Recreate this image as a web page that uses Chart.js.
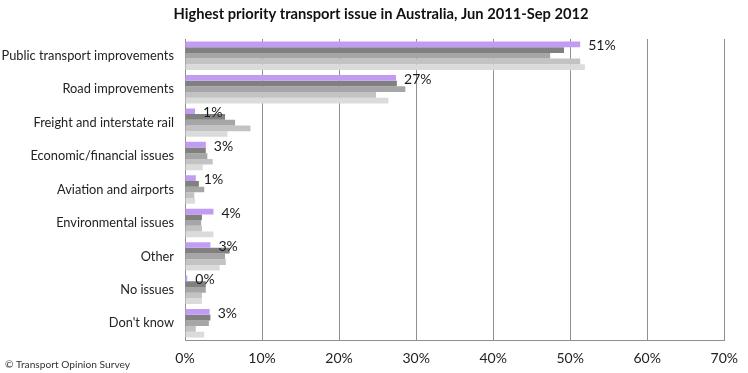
<!DOCTYPE html>
<html>
<head>
<meta charset="utf-8">
<script src="https://cdn.jsdelivr.net/npm/chart.js@4.4.1/dist/chart.umd.min.js"></script>
<style>
  html, body { margin: 0; padding: 0; background: #ffffff; }
  #wrap { width: 748px; height: 373px; position: relative; }
</style>
</head>
<body>
<div id="wrap"><canvas id="c" width="748" height="373"></canvas></div>
<script>
const titleText = 'Highest priority transport issue in Australia, Jun 2011-Sep 2012';
const footerText = '\u00A9 Transport Opinion Survey';

const categories = [
  'Public transport improvements',
  'Road improvements',
  'Freight and interstate rail',
  'Economic/financial issues',
  'Aviation and airports',
  'Environmental issues',
  'Other',
  'No issues',
  "Don't know"
];

const seriesNames = ['Latest survey', 'Earlier survey 1', 'Earlier survey 2', 'Earlier survey 3', 'Earlier survey 4'];

const latest   = [51.3, 27.4, 1.3, 2.7, 1.4, 3.7, 3.3, 0.3, 3.2];
const earlier1 = [49.2, 27.5, 5.2, 2.7, 1.8, 2.2, 5.8, 2.7, 3.3];
const earlier2 = [47.4, 28.6, 6.5, 2.9, 2.5, 2.1, 5.2, 2.7, 3.1];
const earlier3 = [51.3, 24.8, 8.5, 3.6, 1.2, 2.2, 5.3, 2.2, 1.4];
const earlier4 = [51.9, 26.4, 5.5, 2.3, 1.3, 3.7, 4.5, 2.2, 2.5];

const xTicks = [0, 10, 20, 30, 40, 50, 60, 70];

const seriesColors = ['#c29cf2', '#808080', '#a6a6a6', '#c3c3c3', '#dbdbdb'];
const allSeries = [latest, earlier1, earlier2, earlier3, earlier4];

const labelPlugin = {
  id: 'valueLabels',
  afterDatasetsDraw(chart) {
    const ctx = chart.ctx;
    const meta = chart.getDatasetMeta(0);
    ctx.save();
    ctx.font = '14px Lato';
    ctx.fillStyle = '#1a1a1a';
    ctx.textAlign = 'left';
    ctx.textBaseline = 'middle';
    meta.data.forEach((bar, i) => {
      ctx.fillText(Math.round(latest[i]) + '%', bar.x + 8, bar.y + 1.5);
    });
    ctx.restore();
  }
};

const textPlugin = {
  id: 'titleAndFooter',
  afterDraw(chart) {
    const ctx = chart.ctx;
    ctx.save();
    ctx.fillStyle = '#111111';
    ctx.font = 'bold 14.7px Lato';
    ctx.textAlign = 'center';
    ctx.textBaseline = 'middle';
    ctx.fillText(titleText, 381, 14);
    ctx.font = '10.2px Lato';
    ctx.fillStyle = '#333333';
    ctx.textAlign = 'left';
    ctx.fillText(footerText, 5, 365);
    ctx.restore();
  }
};

new Chart(document.getElementById('c'), {
  type: 'bar',
  data: {
    labels: categories,
    datasets: allSeries.map((vals, k) => ({
      label: seriesNames[k],
      data: vals,
      backgroundColor: seriesColors[k],
      borderWidth: 0,
      categoryPercentage: 0.85,
      barPercentage: 1.0
    }))
  },
  options: {
    indexAxis: 'y',
    responsive: false,
    animation: false,
    layout: { padding: { left: 0, right: 21, top: 39, bottom: 0 } },
    plugins: {
      legend: { display: false },
      tooltip: { enabled: false },
      title: { display: false }
    },
    scales: {
      x: {
        min: 0,
        max: 70,
        afterBuildTicks(scale) { scale.ticks = xTicks.map(v => ({ value: v })); },
        afterFit(scale) { scale.height = 33; },
        ticks: {
          callback: v => v + '%',
          color: '#222222',
          font: { family: 'Lato', size: 14 },
          padding: 10,
          maxRotation: 0
        },
        grid: { color: '#8f8f8f', lineWidth: 1, drawTicks: false },
        border: { display: true, color: '#8f8f8f' }
      },
      y: {
        afterFit(scale) { scale.width = 185; },
        ticks: {
          color: '#222222',
          font: { family: 'Lato', size: 12.8 },
          padding: 11
        },
        grid: { display: false, drawTicks: false },
        border: { display: true, color: '#8f8f8f' }
      }
    }
  },
  plugins: [labelPlugin, textPlugin]
});
</script>
</body>
</html>
